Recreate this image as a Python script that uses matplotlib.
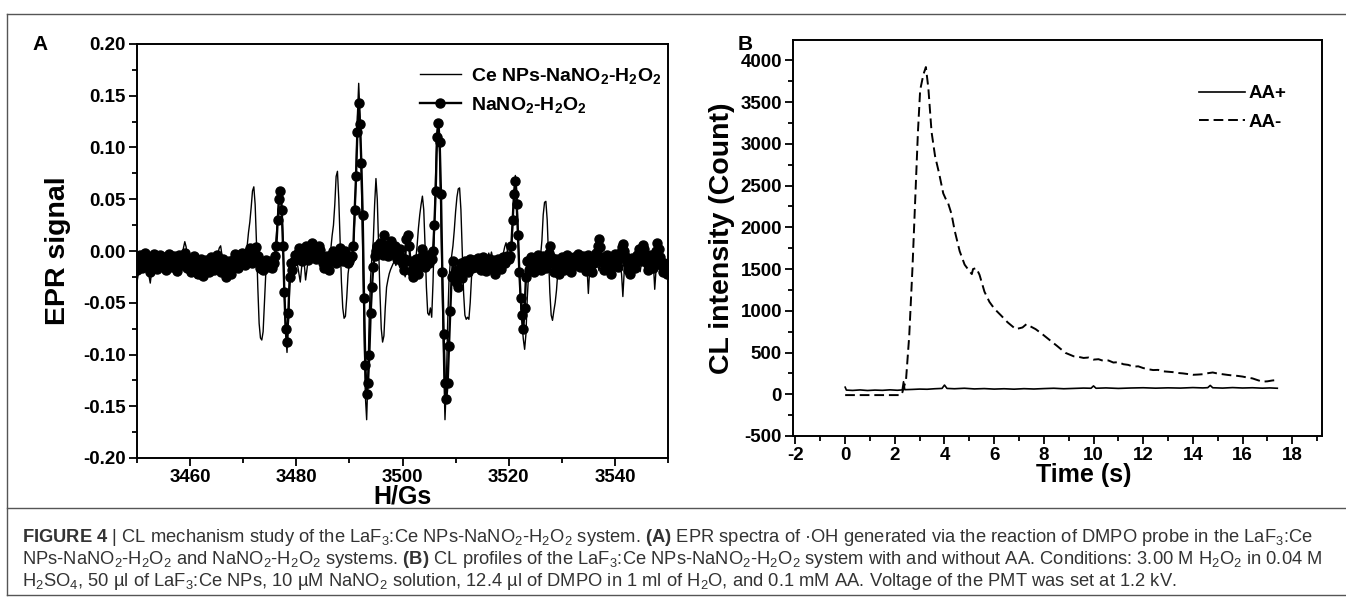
import numpy as np
import matplotlib
matplotlib.use('Agg')
import matplotlib.pyplot as plt
from matplotlib.lines import Line2D
from matplotlib.ticker import MultipleLocator, FormatStrFormatter

plt.rcParams['font.family'] = ['Liberation Sans', 'DejaVu Sans']
plt.rcParams['font.weight'] = 'bold'
plt.rcParams['axes.unicode_minus'] = False
plt.rcParams['mathtext.fontset'] = 'custom'
plt.rcParams['mathtext.rm'] = 'Liberation Sans:weight=normal'
plt.rcParams['mathtext.bf'] = 'Liberation Sans:weight=bold'
plt.rcParams['mathtext.it'] = 'Liberation Sans:italic:weight=normal'

# ---- panel A: EPR spectra, signal x1000, field sweep 3450 G in 0.25 G steps
ce_epr = [
    -30, -22, -15, -8, -12, -18, -10, -5, -14, -24, -31, -20, -12, -6, -10, -16, -8, -2, -12, -20,
    -14, -9, -16, -22, -12, -6, -11, -18, -13, -7, -15, -24, -16, -10, -4, 3, 9, 4, -8, -17,
    -21, -14, -10, -17, -26, -19, -12, -8, -15, -22, -16, -11, -18, -23, -14, -9, -13, -20, -15, -10,
    -8, -2, 3, 5, -4, -14, -19, -13, -9, -16, -21, -15, -10, -14, -20, -12, -8, -13, -18, -12,
    -12, -8, -4, 5, 18, 28, 42, 58, 62, 45, 8, -35, -70, -84, -86, -78, -50, -22, -12, -16,
    -14, -10, -12, -8, 0, 15, 35, 52, 58, 45, 10, -40, -80, -98, -70, -35, -20, -30, -18, -12,
    -10, -14, -22, -30, -16, -8, -12, -28, -18, -8, -4, -10, -6, -2, -8, -12, -5, -1, -7, -10,
    -8, -4, -10, -6, -8, -4, 2, 15, 25, 45, 72, 77, 50, 10, -30, -55, -65, -63, -45, -22,
    -12, -8, -4, 5, 30, 75, 130, 162, 130, 70, 0, -75, -140, -163, -120, -60, -25, -5, 10, 45,
    70, 50, 5, -40, -75, -88, -82, -55, -35, -28, -22, -18, -15, -12, -10, -14, -8, -12, -16, -10,
    -12, -18, -25, -14, -8, -15, -22, -10, -6, -12, -8, 5, 22, 35, 45, 53, 40, 5, -35, -60,
    -62, -55, -64, -30, 20, 75, 115, 124, 95, 30, -40, -110, -163, -130, -70, -30, -10, -5, 5, 20,
    38, 52, 60, 61, 40, 0, -40, -62, -66, -64, -66, -50, -25, -12, -8, -14, -10, -6, -12, -9,
    -10, -14, -8, -12, -6, -2, -8, -1, -7, -12, -15, -10, -8, -13, -9, -4, -2, 4, 8, 0,
    -12, -6, 0, 25, 55, 73, 60, 20, -20, -50, -70, -85, -95, -80, -45, -22, -15, -10, -14, -8,
    -12, -16, -10, -8, -5, 10, 35, 47, 48, 30, -5, -40, -62, -67, -58, -50, -38, -20, -12, -15,
    -10, -14, -18, -12, -8, -15, -20, -12, -9, -16, -22, -14, -10, -13, -18, -11, -7, -14, -20, -16,
    -41, -18, -12, -15, -22, -14, -9, -13, -19, -12, -8, -14, -20, -16, -11, -7, -12, -18, -14, -10,
    -14, -19, -12, -8, -15, -22, -44, -20, -12, -9, -16, -21, -13, -8, -12, -18, -14, -10, -15, -20,
    -12, -8, -14, -19, -13, -9, -15, -22, -16, -12, -37, -18, -10, -14, -20, -12, -18, -24, -16, -22,
    -30,
]
na_epr = [
    -18, -8, -4, -12, -16, -6, -2, -10, -15, -9, -20, -13, -5, -3, -11, -17, -8, -4, -14, -10,
    -6, -12, -18, -9, -3, -8, -15, -11, -5, -13, -19, -10, -4, -9, -14, -7, -2, -11, -16, -8,
    -13, -20, -10, -5, -12, -18, -22, -14, -8, -16, -24, -15, -9, -12, -20, -11, -6, -14, -18, -9,
    -4, -10, -15, -20, -13, -8, -15, -25, -18, -10, -14, -22, -16, -8, -3, -10, -16, -12, -5, -2,
    -8, -14, -10, -4, 0, 3, -6, -12, -8, -2, 4, -5, -10, -16, -12, -18, -14, -9, -15, -11,
    -14, -10, -16, -12, -5, 5, 30, 50, 58, 40, 5, -40, -75, -88, -60, -25, -12, -18, -10, -4,
    -8, -2, 3, -4, -10, -6, 2, 5, -3, -9, -5, 4, 8, 2, -4, -8, -2, 5, 1, -6,
    -12, -16, -10, -5, -12, -18, -8, -3, 0, -6, -12, -8, -2, 3, -4, -10, -6, 0, -5, -12,
    -10, -6, -5, 5, 40, 72, 115, 143, 123, 85, 35, -45, -110, -138, -128, -100, -60, -35, -15, -5,
    0, 5, -2, 8, 3, -4, 15, 6, 0, -5, 4, 10, 2, -3, 5, -2, -8, -4, 2, -6,
    -12, -18, -8, 12, 15, 5, -10, -20, -25, -14, -8, -16, -22, -12, -6, 2, -5, -15, -10, -4,
    -12, -6, -8, 0, 25, 58, 110, 124, 105, 55, -20, -80, -128, -143, -128, -92, -58, -25, -10, -22,
    -30, -18, -35, -22, -12, -26, -18, -10, -14, -20, -12, -8, -16, -13, -9, -15, -11, -7, -13, -18,
    -10, -6, -14, -19, -12, -8, -11, -16, -9, -13, -22, -15, -8, -12, -17, -10, -6, -12, -9, -5,
    -8, -5, 5, 30, 55, 68, 45, 15, -20, -45, -62, -75, -55, -25, -10, -18, -12, -6, -14, -20,
    -12, -8, -4, -14, -18, -10, -5, -12, -16, -8, -2, 5, -6, -12, -20, -14, -8, -15, -22, -10,
    -6, -12, -18, -9, -4, -10, -16, -20, -12, -6, -14, -9, -3, -8, -15, -11, -5, -13, -19, -10,
    -4, -8, -14, -20, -12, -6, -2, 5, 12, 4, -6, -12, -18, -10, -4, -10, -16, -22, -14, -8,
    -3, -10, -15, -8, -2, 4, 7, 0, -6, -12, -18, -22, -14, -7, -12, -16, -10, -4, 2, -5,
    -10, 6, 2, -6, -12, -18, -10, -4, -12, -16, -8, 0, 8, 2, -6, -14, -20, -12, -16, -22,
    -18,
]
field_start = 3450
field_step = 0.25

# ---- panel B: CL kinetics
aa_minus_t = [0, 0.5, 1.0, 1.5, 2.0, 2.25, 2.3, 2.45, 2.58, 2.71, 2.82, 2.93, 3.02, 3.15, 3.25,
              3.35, 3.48, 3.62, 3.78, 3.95, 4.05, 4.15, 4.28, 4.41, 4.61, 4.81, 5.01, 5.1, 5.15,
              5.28, 5.41, 5.61, 5.81, 6.01, 6.28, 6.54, 6.87, 7.14, 7.3, 7.41, 7.67, 7.94, 8.2,
              8.54, 8.87, 9.2, 9.4, 9.6, 9.8, 10.0, 10.2, 10.4, 10.6, 10.8, 11.0, 11.2, 11.4,
              11.6, 11.8, 12.0, 12.2, 12.4, 12.6, 12.8, 13.0, 13.2, 13.4, 13.6, 13.8, 14.0, 14.2,
              14.4, 14.6, 14.8, 15.0, 15.2, 15.4, 15.6, 15.8, 16.0, 16.2, 16.4, 16.6, 16.8, 17.0,
              17.2, 17.4]
aa_minus_y = [-10, -10, -10, -10, -10, -10, 20, 170, 700, 1510, 2325, 3140, 3645, 3830, 3920,
              3667, 3140, 2853, 2650, 2406, 2340, 2285, 2162, 1960, 1715, 1553, 1472, 1440, 1500,
              1512, 1431, 1228, 1106, 1024, 943, 862, 780, 800, 840, 821, 780, 720, 658,
              577, 496, 455, 448, 435, 440, 415, 420, 400, 405, 380, 385, 360, 352,
              330, 335, 314, 300, 290, 292, 275, 270, 265, 255, 250, 242, 233, 236,
              240, 252, 261, 248, 240, 232, 225, 220, 212, 200, 190, 170, 151, 155,
              165, 171]
aa_plus_t = [0, 0.05, 0.3, 0.6, 0.9, 1.2, 1.5, 1.8, 2.1, 2.3, 2.35, 2.4, 2.7, 3.0, 3.3, 3.6,
             3.9, 4.0, 4.1, 4.4, 4.8, 5.2, 5.6, 6.0, 6.4, 6.8, 7.2, 7.6, 8.0, 8.4, 8.8, 9.2,
             9.6, 9.9, 10.0, 10.1, 10.5, 11.0, 11.5, 12.0, 12.5, 13.0, 13.5, 14.0, 14.4, 14.6,
             14.7, 14.8, 15.2, 15.6, 16.0, 16.4, 16.8, 17.1, 17.4]
aa_plus_y = [85, 50, 46, 52, 45, 50, 47, 53, 48, 52, 150, 55, 58, 62, 60, 66,
             70, 110, 70, 66, 72, 64, 68, 62, 66, 61, 67, 63, 68, 72, 66, 70,
             74, 72, 100, 72, 76, 70, 75, 78, 73, 77, 74, 80, 76, 79,
             106, 78, 74, 80, 75, 78, 73, 76, 72]

W, H = 1346, 600
fig = plt.figure(figsize=(W / 100, H / 100), dpi=100)


def box(l, t, r, b):
    return [l / W, 1 - b / H, (r - l) / W, (b - t) / H]


def style_axis(ax):
    for s in ax.spines.values():
        s.set_linewidth(1.4)
    ax.tick_params(which='both', direction='out', top=False, right=False, width=1.3,
                   labelsize=13.5, pad=2)
    ax.tick_params(which='major', length=6)
    ax.tick_params(which='minor', length=3.5)


# panel A
axA = fig.add_axes(box(137, 44, 668, 458))
ce_x = field_start + field_step * np.arange(len(ce_epr))
na_x = field_start + field_step * np.arange(len(na_epr))
axA.plot(ce_x, np.array(ce_epr) / 1000, color='black', lw=1.0,
         label='Ce NPs-NaNO$_\\mathbf{2}$-H$_\\mathbf{2}$O$_\\mathbf{2}$')
axA.plot(na_x, np.array(na_epr) / 1000, color='black', lw=1.7, marker='o', ms=6.5,
         label='NaNO$_\\mathbf{2}$-H$_\\mathbf{2}$O$_\\mathbf{2}$')
axA.set_xlim(3450, 3550)
axA.set_ylim(-0.2, 0.2)
axA.xaxis.set_minor_locator(MultipleLocator(10))
axA.set_xticks([3460, 3480, 3500, 3520, 3540])
axA.yaxis.set_major_locator(MultipleLocator(0.05))
axA.yaxis.set_minor_locator(MultipleLocator(0.025))
axA.yaxis.set_major_formatter(FormatStrFormatter('%.2f'))
style_axis(axA)
axA.set_ylabel('EPR signal', fontsize=20.5, fontweight='bold')
axA.yaxis.set_label_coords(-0.125, 0.5)
axA.set_xlabel('H/Gs', fontsize=18, fontweight='bold')
axA.xaxis.set_label_coords(0.5, -0.064)
axA.legend(loc='upper left', frameon=False, fontsize=14, handlelength=2.1,
           handletextpad=0.5, labelspacing=0.45, borderpad=0, borderaxespad=0,
           bbox_to_anchor=(420 / W, 1 - 66 / H), bbox_transform=fig.transFigure)
fig.text(40 / W, 1 - 44 / H, 'A', fontsize=15, fontweight='bold', ha='center', va='center')

# panel B
axB = fig.add_axes(box(793, 40, 1322, 436))
axB.plot(aa_plus_t, aa_plus_y, color='black', lw=1.2, label='AA+')
axB.plot(aa_minus_t, aa_minus_y, color='black', lw=1.4, dashes=(5, 2.5), label='AA-')
axB.set_xlim(-2.1, 19.2)
axB.set_ylim(-500, 4244)
axB.xaxis.set_major_locator(MultipleLocator(2))
axB.xaxis.set_minor_locator(MultipleLocator(1))
axB.yaxis.set_major_locator(MultipleLocator(500))
axB.yaxis.set_minor_locator(MultipleLocator(250))
style_axis(axB)
axB.set_ylabel('CL intensity (Count)', fontsize=20.5, fontweight='bold')
axB.yaxis.set_label_coords(-0.11, 0.5)
axB.set_xlabel('Time (s)', fontsize=18, fontweight='bold')
axB.xaxis.set_label_coords(0.55, -0.068)
axB.legend(loc='upper left', frameon=False, fontsize=13.5, handlelength=2.45,
           handletextpad=0.2, labelspacing=0.62, borderpad=0, borderaxespad=0,
           bbox_to_anchor=(1199 / W, 1 - 85 / H), bbox_transform=fig.transFigure)
fig.text(745 / W, 1 - 44 / H, 'B', fontsize=15, fontweight='bold', ha='center', va='center')

# frame lines
edge = '#555555'
for xs, ys in [([7, W], [14, 14]), ([7, 7], [14, 595]), ([7, W], [595, 595]),
               ([7, W], [508, 508])]:
    fig.add_artist(Line2D([x / W for x in xs], [1 - y / H for y in ys], color=edge, lw=1.0))

# caption
cap = [
    r'$\mathbf{FIGURE\ 4}$ | CL mechanism study of the LaF$_3$:Ce NPs-NaNO$_2$-H$_2$O$_2$ system. '
    r'$\mathbf{(A)}$ EPR spectra of ·OH generated via the reaction of DMPO probe in the LaF$_3$:Ce',
    r'NPs-NaNO$_2$-H$_2$O$_2$ and NaNO$_2$-H$_2$O$_2$ systems. $\mathbf{(B)}$ CL profiles of the '
    r'LaF$_3$:Ce NPs-NaNO$_2$-H$_2$O$_2$ system with and without AA. Conditions: 3.00 M H$_2$O$_2$ in 0.04 M',
    r'H$_2$SO$_4$, 50 µl of LaF$_3$:Ce NPs, 10 µM NaNO$_2$ solution, 12.4 µl of DMPO in 1 ml of '
    r'H$_2$O, and 0.1 mM AA. Voltage of the PMT was set at 1.2 kV.',
]
for k, line in enumerate(cap):
    fig.text(22 / W, 1 - (537 + 22.5 * k) / H, line, fontsize=13.2, fontweight='normal',
             color='#333333', ha='left', va='center')

fig.savefig('out.png', dpi=100)
